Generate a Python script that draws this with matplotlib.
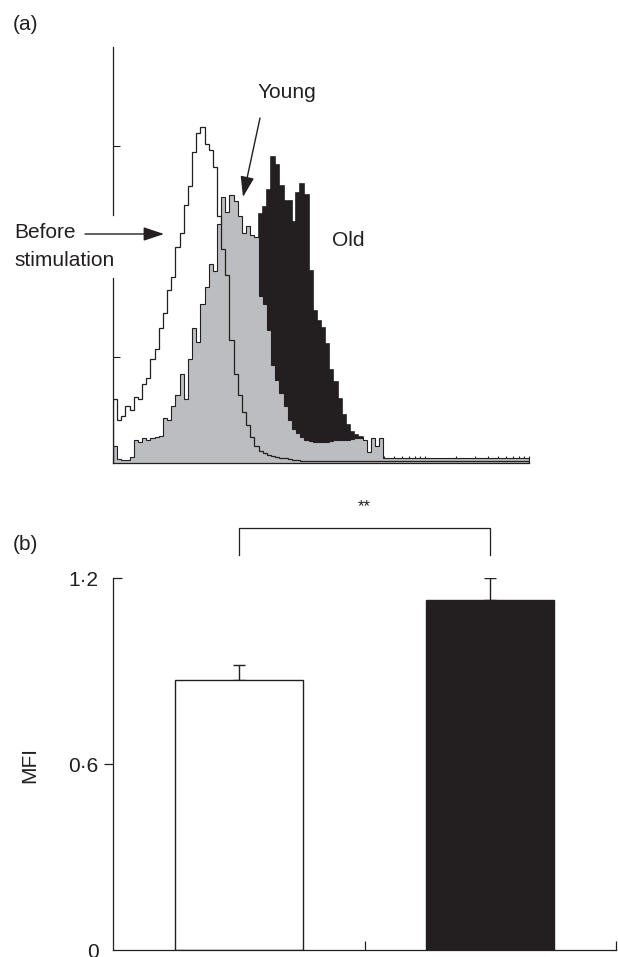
import numpy as np
import matplotlib
matplotlib.use('Agg')
import matplotlib.pyplot as plt
from matplotlib.ticker import LogLocator, NullFormatter, FixedLocator
from matplotlib.lines import TICKRIGHT

plt.rcParams['font.family'] = ['Liberation Sans', 'DejaVu Sans']

INK = '#231f20'
GREY = '#bcbdc0'

# (a) CD69-type flow histograms: counts per channel, 100 log channels over 4 decades
before = [30, 20, 22, 27, 25, 31, 30, 37, 40, 49,
          54, 64, 71, 82, 88, 102, 109, 122, 131, 147,
          156, 159, 151, 148, 140, 117, 101, 89, 58, 42,
          32, 24, 18, 12, 8, 5.5, 4.5, 3.5, 3, 2.6,
          2.2, 1.9, 1.6, 1.3, 1.1, 0.8, 0.8, 0.8, 0.8, 0.8,
          0.8, 0.8, 0.8, 0.8, 0.8, 0.8, 0.8, 0.8, 0.8, 0.8,
          0.8, 0.8, 0.8, 0.8, 0.8, 0.8, 0.8, 0.8, 0.8, 0.8,
          0.8, 0.8, 0.8, 0.8, 0.8, 0.8, 0.8, 0.8, 0.8, 0.8,
          0.8, 0.8, 0.8, 0.8, 0.8, 0.8, 0.8, 0.8, 0.8, 0.8,
          0.8, 0.8, 0.8, 0.8, 0.8, 0.8, 0.8, 0.8, 0.8, 0.8]

young = [8, 1.5, 1.2, 1.2, 2.5, 10.5, 9.5, 11.5, 10.5, 11.5,
         12, 12.5, 21, 20, 27, 32, 42, 30, 49, 64,
         57, 75, 83, 94, 91, 113, 126, 119, 127, 124,
         117, 109, 112, 108, 107, 79, 75, 63, 46, 39,
         33, 27, 20, 16, 14, 12, 10.5, 10, 9.5, 9.5,
         9.5, 9.5, 10, 10.5, 10.5, 10.5, 10.5, 11, 11.5, 11.5,
         10.5, 5, 11.5, 8, 11.5, 2, 2, 2, 2, 2,
         2, 2, 2, 2, 2, 2, 2, 2, 2, 2,
         2, 2, 2, 2, 2, 2, 2, 2, 2, 2,
         2, 2, 2, 2, 2, 2, 2, 2, 2, 2]

old = [0, 0, 0, 0, 0, 0, 0, 0, 0, 0,
       0, 0, 0, 0, 0, 0, 0, 0, 0, 0,
       0, 0, 0, 0, 0, 0, 0, 0, 0, 0,
       15, 30, 50, 80, 104, 118, 121, 129, 145, 141,
       131, 124, 124, 114, 128, 132, 127, 91, 72, 67,
       64, 56, 44, 38, 30, 22.5, 18, 14.5, 13, 12,
       0, 0, 0, 0, 0, 0, 0, 0, 0, 0,
       0, 0, 0, 0, 0, 0, 0, 0, 0, 0,
       0, 0, 0, 0, 0, 0, 0, 0, 0, 0,
       0, 0, 0, 0, 0, 0, 0, 0, 0, 0]

# (b) mean fluorescence intensity
groups = ['Young', 'Old']
mfi = [0.87, 1.13]
sem = [0.05, 0.07]


W, H = 618, 957


def fx(px):
    return px / W


def fy(py):
    return 1 - py / H


fig = plt.figure(figsize=(W / 100, H / 100), dpi=100)

# ---------------- panel (a) ----------------
axa = fig.add_axes([fx(113), fy(462.5), fx(529) - fx(113), fy(47) - fy(462.5)])
edges = 10 ** (0.04 * np.arange(len(before) + 1))

axa.stairs(old, edges, fill=True, color=INK, zorder=1)
axa.stairs(old, edges, color=INK, lw=1.2, zorder=1)
axa.stairs(young, edges, fill=True, color=GREY, zorder=2)
axa.stairs(young, edges, color=INK, lw=0.8, zorder=3)
axa.stairs(before, edges, color=INK, lw=0.9, zorder=4)

axa.set_xscale('log')
axa.set_xlim(1, 1e4)
axa.set_ylim(0, 197)
axa.xaxis.set_major_locator(LogLocator(base=10))
axa.xaxis.set_minor_locator(LogLocator(base=10, subs=np.arange(2, 10)))
axa.xaxis.set_minor_formatter(NullFormatter())
axa.set_yticks([50, 150])
axa.tick_params(which='both', direction='in', length=5, width=0.8, color=INK,
                labelbottom=False, labelleft=False)
for s in ['top', 'right', 'left']:
    axa.spines[s].set_visible(False)
axa.spines['bottom'].set_linewidth(0.9)
axa.spines['bottom'].set_color(INK)
# left axis is interrupted by the "Before stimulation" label
axa.axvline(1, 0, 87.4 / 197, color=INK, lw=0.9, clip_on=False, zorder=5)
axa.axvline(1, 117.3 / 197, 1, color=INK, lw=0.9, clip_on=False, zorder=5)

fs = 15
fig.text(fx(13), fy(25), '(a)', fontsize=fs, color=INK, va='center', ha='left')
fig.text(fx(287), fy(93), 'Young', fontsize=fs, color=INK, va='center', ha='center')
fig.text(fx(348), fy(241), 'Old', fontsize=fs, color=INK, va='center', ha='center')
fig.text(fx(14), fy(233), 'Before', fontsize=fs, color=INK, va='center', ha='left')
fig.text(fx(14), fy(260), 'stimulation', fontsize=fs, color=INK, va='center', ha='left')

arrow = dict(arrowstyle='-|>,head_length=0.9,head_width=0.3', color=INK, lw=1,
             mutation_scale=14, shrinkA=0, shrinkB=0)
axa.annotate('', xy=(fx(164), fy(234)), xytext=(fx(85), fy(234)),
             xycoords='figure fraction', textcoords='figure fraction', arrowprops=arrow)
axa.annotate('', xy=(fx(243), fy(197)), xytext=(fx(260), fy(118)),
             xycoords='figure fraction', textcoords='figure fraction', arrowprops=arrow)

# ---------------- panel (b) ----------------
axb = fig.add_axes([fx(113), fy(950), fx(616) - fx(113), fy(578) - fy(950)])
x = np.arange(len(groups))
axb.bar(x, mfi, width=0.51, color=['white', INK], edgecolor=INK, linewidth=1, zorder=2)
axb.errorbar(x, mfi, yerr=[[0, 0], sem], fmt='none', ecolor=INK, elinewidth=1,
             capsize=4.5, capthick=1, zorder=1)

axb.set_xlim(-0.5, 1.5)
axb.set_ylim(0, 1.2)
axb.set_xticks([0.5, 1.5])
axb.set_xticklabels([])
axb.yaxis.set_major_locator(FixedLocator([0, 0.6, 1.2]))
axb.set_yticklabels(['0', '0·6', '1·2'])
axb.tick_params(axis='x', direction='in', length=6.5, width=0.9, color=INK)
axb.tick_params(axis='y', direction='out', length=6.5, width=0.9, color=INK,
                labelsize=fs, labelcolor=INK, pad=4)
yt = axb.yaxis.get_major_ticks()
yt[0].tick1line.set_visible(False)
yt[2].tick1line.set_marker(TICKRIGHT)
for s in ['top', 'right']:
    axb.spines[s].set_visible(False)
for s in ['left', 'bottom']:
    axb.spines[s].set_linewidth(0.9)
    axb.spines[s].set_color(INK)

# significance bracket
axb.plot([0, 0, 1, 1], [1.274, 1.361, 1.361, 1.274], color=INK, lw=0.9, clip_on=False)
axb.text(0.5, 1.43, '**', fontsize=12, color=INK, ha='center', va='center')

fig.text(fx(13), fy(545), '(b)', fontsize=fs, color=INK, va='center', ha='left')
fig.text(fx(30), fy(765), 'MFI', fontsize=fs, color=INK, va='center', ha='center',
         rotation=90)

fig.savefig('out.png', dpi=100, facecolor='white')
